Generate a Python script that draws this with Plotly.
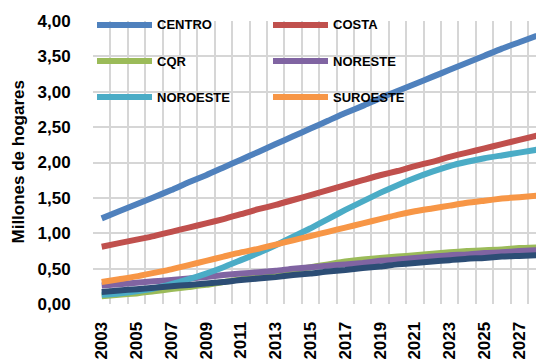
import plotly.graph_objects as go

years = list(range(2003, 2029))

centro = [1.21, 1.31, 1.41, 1.51, 1.61, 1.72, 1.82, 1.93, 2.04, 2.15, 2.26, 2.37, 2.48,
          2.59, 2.70, 2.80, 2.91, 3.01, 3.11, 3.21, 3.31, 3.41, 3.51, 3.61, 3.70, 3.79]
costa = [0.81, 0.86, 0.91, 0.96, 1.02, 1.08, 1.14, 1.20, 1.27, 1.34, 1.40, 1.47, 1.54,
         1.61, 1.68, 1.75, 1.82, 1.88, 1.95, 2.01, 2.08, 2.14, 2.20, 2.26, 2.32, 2.38]
cqr = [0.11, 0.13, 0.15, 0.18, 0.21, 0.24, 0.27, 0.31, 0.35, 0.39, 0.44, 0.48, 0.52,
       0.56, 0.60, 0.63, 0.65, 0.67, 0.69, 0.71, 0.73, 0.75, 0.76, 0.77, 0.79, 0.80]
noreste = [0.26, 0.28, 0.30, 0.32, 0.34, 0.36, 0.38, 0.41, 0.43, 0.45, 0.47, 0.50, 0.52,
           0.54, 0.56, 0.58, 0.61, 0.63, 0.65, 0.67, 0.69, 0.70, 0.72, 0.73, 0.75, 0.76]
noroeste = [0.13, 0.15, 0.18, 0.22, 0.28, 0.35, 0.43, 0.52, 0.62, 0.72, 0.83, 0.95, 1.07,
            1.20, 1.33, 1.45, 1.57, 1.68, 1.78, 1.87, 1.95, 2.01, 2.06, 2.10, 2.14, 2.18]
suroeste = [0.31, 0.35, 0.39, 0.44, 0.49, 0.55, 0.61, 0.67, 0.73, 0.78, 0.84, 0.90, 0.96,
            1.02, 1.08, 1.14, 1.20, 1.26, 1.31, 1.35, 1.39, 1.43, 1.46, 1.49, 1.51, 1.53]
sureste = [0.17, 0.19, 0.21, 0.23, 0.25, 0.27, 0.29, 0.31, 0.34, 0.36, 0.38, 0.41, 0.43,
           0.46, 0.48, 0.51, 0.53, 0.56, 0.58, 0.60, 0.62, 0.64, 0.65, 0.67, 0.68, 0.69]

series = [
    ("CENTRO", centro, "#4F81BD", True),
    ("COSTA", costa, "#C0504D", True),
    ("CQR", cqr, "#9BBB59", True),
    ("NORESTE", noreste, "#8064A2", True),
    ("NOROESTE", noroeste, "#4BACC6", True),
    ("SUROESTE", suroeste, "#F79646", True),
    ("SURESTE", sureste, "#2C4D75", False),
]

y_ticks = [0, 0.5, 1, 1.5, 2, 2.5, 3, 3.5, 4]
y_labels = [f"{v:.2f}".replace(".", ",") for v in y_ticks]
x_ticks = years[::2]

W, H = 536, 360
ML, MR, MT, MB = 93, 0, 21, 56
PW = W - ML - MR
PH = H - MT - MB

fig = go.Figure()
for name, vals, color, _ in series:
    fig.add_trace(go.Scatter(
        x=years, y=vals, name=name, mode="lines",
        line=dict(color=color, width=6, shape="spline", smoothing=0.5),
        showlegend=False,
    ))

# Hand-laid legend: 2 columns x 3 rows in the top-left corner of the plot
def px_to_paper(px, py):
    return (px - ML) / PW, 1 - (py - MT) / PH

col_x = [97, 273]
row_y = [25, 61, 97]
seg_len = 55
legend_items = [s for s in series if s[3]]
for i, (name, _, color, _) in enumerate(legend_items):
    r, c = divmod(i, 2)
    x0, y0 = px_to_paper(col_x[c], row_y[r])
    x1, _ = px_to_paper(col_x[c] + seg_len, row_y[r])
    fig.add_shape(type="line", xref="paper", yref="paper",
                  x0=x0, x1=x1, y0=y0, y1=y0,
                  line=dict(color=color, width=6))
    tx, ty = px_to_paper(col_x[c] + seg_len + 3, row_y[r])
    fig.add_annotation(xref="paper", yref="paper", x=tx, y=ty,
                       text=f"<b>{name}</b>", showarrow=False, xanchor="left", yanchor="middle",
                       font=dict(family="Liberation Sans", size=13, color="#000000"))

tx, ty = px_to_paper(18, (MT + MT + PH) / 2)
fig.add_annotation(xref="paper", yref="paper", x=tx, y=ty,
                   text="<b>Millones de hogares</b>", textangle=-90, showarrow=False,
                   xanchor="center", yanchor="middle",
                   font=dict(family="Liberation Sans", size=17, color="#000000"))

grid = "#D6D6D6"
fig.update_layout(
    width=W, height=H,
    margin=dict(l=ML, r=MR, t=MT, b=MB, pad=0),
    paper_bgcolor="white", plot_bgcolor="white",
    font=dict(family="Liberation Sans", color="#000000"),
    xaxis=dict(
        range=[2002.5, 2002.5 + PW / 17.4],
        tickvals=x_ticks, ticktext=[f"<b>{v}</b>" for v in x_ticks],
        tickangle=-90, tickfont=dict(size=17),
        showgrid=False, zeroline=False, showline=False,
        ticks="outside", ticklen=0, ticklabelstandoff=10,
        minor=dict(showgrid=True, tick0=2002.5, dtick=1, gridcolor=grid, gridwidth=1.5),
    ),
    yaxis=dict(
        range=[0, 4], tickvals=y_ticks, ticktext=[f"<b>{t}</b>" for t in y_labels],
        tickfont=dict(size=17), showgrid=True, gridcolor=grid, gridwidth=1.5,
        zeroline=False, showline=False, ticks="outside", ticklen=0,
        ticklabelstandoff=18,
    ),
)

fig.write_html("out.html")
